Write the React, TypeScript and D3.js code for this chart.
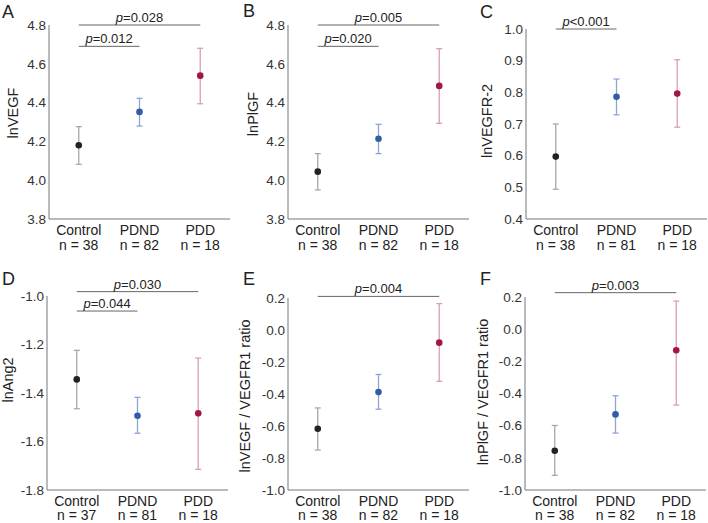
import React from "react";
import * as d3 from "d3";

// ---------- data ----------
const categories = ["Control", "PDND", "PDD"];
const panelLetters = ["A", "B", "C", "D", "E", "F"];
const yTitles = [
  "lnVEGF",
  "lnPlGF",
  "lnVEGFR-2",
  "lnAng2",
  "lnVEGF / VEGFR1 ratio",
  "lnPlGF / VEGFR1 ratio",
];
const nCounts = [
  [38, 82, 18],
  [38, 82, 18],
  [38, 81, 18],
  [37, 81, 18],
  [38, 82, 18],
  [38, 82, 18],
];
const means = [
  [4.18, 4.352, 4.539],
  [4.044, 4.214, 4.486],
  [0.597, 0.786, 0.796],
  [-1.344, -1.494, -1.484],
  [-0.617, -0.388, -0.079],
  [-0.756, -0.53, -0.131],
];
const lowers = [
  [4.082, 4.279, 4.394],
  [3.95, 4.137, 4.293],
  [0.494, 0.729, 0.69],
  [-1.465, -1.566, -1.715],
  [-0.75, -0.495, -0.321],
  [-0.909, -0.646, -0.472],
];
const uppers = [
  [4.276, 4.422, 4.68],
  [4.137, 4.288, 4.678],
  [0.7, 0.842, 0.903],
  [-1.224, -1.418, -1.256],
  [-0.487, -0.278, 0.165],
  [-0.599, -0.414, 0.175],
];
const yDomains: [number, number][] = [
  [3.8, 4.8],
  [3.8, 4.8],
  [0.4, 1.0],
  [-1.8, -1.0],
  [-1.0, 0.2],
  [-1.0, 0.2],
];
const yTickValues = [
  [3.8, 4.0, 4.2, 4.4, 4.6, 4.8],
  [3.8, 4.0, 4.2, 4.4, 4.6, 4.8],
  [0.4, 0.5, 0.6, 0.7, 0.8, 0.9, 1.0],
  [-1.8, -1.6, -1.4, -1.2, -1.0],
  [-1.0, -0.8, -0.6, -0.4, -0.2, 0.0, 0.2],
  [-1.0, -0.8, -0.6, -0.4, -0.2, 0.0, 0.2],
];
const sigFrom = [
  ["Control", "Control"],
  ["Control", "Control"],
  ["Control"],
  ["Control", "Control"],
  ["Control"],
  ["Control"],
];
const sigTo = [
  ["PDD", "PDND"],
  ["PDD", "PDND"],
  ["PDND"],
  ["PDD", "PDND"],
  ["PDD"],
  ["PDD"],
];
const sigValue = [
  ["=0.028", "=0.012"],
  ["=0.005", "=0.020"],
  ["<0.001"],
  ["=0.030", "=0.044"],
  ["=0.004"],
  ["=0.003"],
];
const sigLevel = [
  [4.8, 4.69],
  [4.8, 4.69],
  [1.0],
  [-0.982, -1.062],
  [0.21],
  [0.227],
];

// ---------- layout / style ----------
const W = 708;
const H = 523;
const layout = [
  { ax: 49, top: 25, bottom: 219, lx: 2, ly: 18, tOff: 31.5, tY: 113, n: 31 },
  { ax: 288, top: 25, bottom: 219, lx: 243, ly: 17, tOff: 30.5, tY: 114, n: 31 },
  { ax: 526, top: 29, bottom: 219, lx: 480, ly: 18, tOff: 34, tY: 121, n: 31 },
  { ax: 47, top: 296, bottom: 490, lx: 2, ly: 285, tOff: 34.5, tY: 380, n: 30 },
  { ax: 288, top: 298, bottom: 490, lx: 243, ly: 285, tOff: 38, tY: 396, n: 30 },
  { ax: 525, top: 297, bottom: 490, lx: 480, ly: 285, tOff: 37, tY: 392, n: 30 },
];
const axisLen = 181;
const dotColors = ["#222222", "#2f5ea6", "#a3173f"];
const barColors = ["#a8a8a8", "#8ea6cf", "#d8a0b2"];
const FONT = "'Liberation Sans', Arial, sans-serif";

function Panel({ i }: { i: number }) {
  const L = layout[i];
  const x = d3
    .scalePoint<string>()
    .domain(categories)
    .range([L.ax, L.ax + axisLen])
    .padding(0.49);
  const y = d3.scaleLinear().domain(yDomains[i]).range([L.bottom, L.top]);
  const titleX = L.ax - L.tOff;
  return (
    <g>
      <text x={L.lx} y={L.ly} fontSize={18} fill="#222" fontFamily={FONT}>
        {panelLetters[i]}
      </text>
      <line x1={L.ax} x2={L.ax} y1={L.top} y2={L.bottom} stroke="#777" strokeWidth={1} />
      <line x1={L.ax} x2={L.ax + axisLen} y1={L.bottom} y2={L.bottom} stroke="#777" strokeWidth={1} />
      {yTickValues[i].map((t) => (
        <text
          key={t}
          x={L.ax - 3}
          y={y(t)}
          dy="0.35em"
          textAnchor="end"
          fontSize={13.5}
          fill="#333"
          fontFamily={FONT}
        >
          {t.toFixed(1)}
        </text>
      ))}
      <text
        transform={`translate(${titleX},${L.tY}) rotate(-90)`}
        textAnchor="middle"
        fontSize={14.5}
        fill="#222"
        fontFamily={FONT}
      >
        {yTitles[i]}
      </text>
      {categories.map((c, j) => (
        <g key={c}>
          <text
            x={x(c)}
            y={L.bottom + 15.5}
            textAnchor="middle"
            fontSize={14}
            fill="#222"
            fontFamily={FONT}
          >
            {c}
          </text>
          <text
            x={x(c)}
            y={L.bottom + L.n}
            textAnchor="middle"
            fontSize={14}
            fill="#222"
            fontFamily={FONT}
          >
            {`n = ${nCounts[i][j]}`}
          </text>
        </g>
      ))}
      {sigFrom[i].map((f, k) => {
        const x1 = x(f)!;
        const x2 = x(sigTo[i][k])!;
        const yy = y(sigLevel[i][k]);
        return (
          <g key={k}>
            <line x1={x1} x2={x2} y1={yy} y2={yy} stroke="#666" strokeWidth={1} />
            <text
              x={(x1 + x2) / 2}
              y={yy - 3}
              textAnchor="middle"
              fontSize={13}
              fill="#222"
              fontFamily={FONT}
            >
              <tspan fontStyle="italic">p</tspan>
              {sigValue[i][k]}
            </text>
          </g>
        );
      })}
      {categories.map((c, j) => {
        const cx = x(c)!;
        const lo = y(lowers[i][j]);
        const hi = y(uppers[i][j]);
        return (
          <g key={c}>
            <line x1={cx} x2={cx} y1={lo} y2={hi} stroke={barColors[j]} strokeWidth={1.3} />
            <line x1={cx - 3} x2={cx + 3} y1={lo} y2={lo} stroke={barColors[j]} strokeWidth={1.3} />
            <line x1={cx - 3} x2={cx + 3} y1={hi} y2={hi} stroke={barColors[j]} strokeWidth={1.3} />
            <circle cx={cx} cy={y(means[i][j])} r={3.3} fill={dotColors[j]} />
          </g>
        );
      })}
    </g>
  );
}

export default function App() {
  return (
    <svg
      width={W}
      height={H}
      style={{ position: "absolute", left: 0, top: 0, background: "#fff" }}
    >
      {panelLetters.map((_, i) => (
        <Panel key={i} i={i} />
      ))}
    </svg>
  );
}
